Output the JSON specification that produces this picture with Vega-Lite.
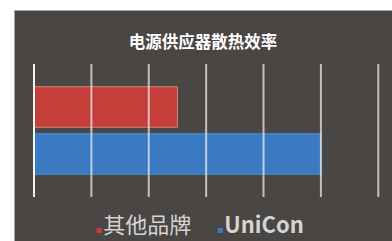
{
  "$schema": "https://vega.github.io/schema/vega-lite/v6.json",
  "width": 378,
  "height": 231,
  "autosize": "none",
  "padding": {"left": 14, "top": 10, "right": 0, "bottom": 0},
  "background": "#ffffff",
  "config": {
    "font": "Noto Sans CJK SC",
    "view": {"fill": "#4a4644", "stroke": "#a8a8a8", "strokeWidth": 1}
  },
  "title": {
    "text": "电源供应器散热效率",
    "font": "Noto Sans CJK SC",
    "fontSize": 16.5,
    "fontWeight": "bold",
    "color": "#ffffff",
    "anchor": "middle",
    "frame": "group",
    "baseline": "middle",
    "offset": -49
  },
  "resolve": {"scale": {"y": "independent"}},
  "layer": [
    {
      "data": {"values": [
        {"brand": "其他品牌", "value": 2.5},
        {"brand": "UniCon", "value": 5.0}
      ]},
      "mark": {"type": "bar", "strokeWidth": 1},
      "encoding": {
        "y": {"field": "brand", "type": "nominal", "sort": ["其他品牌", "UniCon"],
          "scale": {"range": [54, 187], "paddingInner": 0.138, "paddingOuter": 0.484}, "axis": null},
        "x": {"field": "value", "type": "quantitative",
          "scale": {"domain": [0, 6], "range": [20, 364.3], "nice": false, "zero": true}, "axis": null},
        "stroke": {"field": "brand", "type": "nominal",
          "scale": {"domain": ["其他品牌", "UniCon"], "range": ["#d9807b", "#4f8ccf"]}, "legend": null},
        "color": {"field": "brand", "type": "nominal",
          "scale": {"domain": ["其他品牌", "UniCon"], "range": ["#c43e3a", "#3a7ac3"]},
          "legend": {
            "orient": "none",
            "legendX": 74.2,
            "legendY": 209.5,
            "direction": "horizontal",
            "title": null,
            "padding": 0,
            "symbolType": "square",
            "symbolSize": 25,
            "symbolStrokeWidth": 0,
            "labelFontSize": 22,
            "labelColor": "#d4d4d4",
            "labelOffset": -7,
            "columnPadding": 17,
            "labelLimit": 300,
            "encode": {
              "labels": {"update": {
                "fontWeight": {"signal": "datum.value === 'UniCon' ? 'bold' : 'normal'"},
                "dy": {"value": -5}
              }}
            }
          }
        }
      }
    },
    {
      "data": {"values": [
        {"tick": 0}, {"tick": 1}, {"tick": 2}, {"tick": 3}, {"tick": 4}, {"tick": 5}, {"tick": 6}
      ]},
      "mark": {"type": "rule", "color": "#f4f4f4", "strokeWidth": 2},
      "encoding": {
        "x": {"field": "tick", "type": "quantitative"},
        "y": {"datum": 0, "type": "quantitative", "scale": {"domain": [0, 1], "range": [54, 187], "nice": false, "zero": false}, "axis": null},
        "y2": {"datum": 1},
        "opacity": {"condition": {"test": "datum.tick === 0", "value": 1}, "value": 0.7}
      }
    }
  ]
}
